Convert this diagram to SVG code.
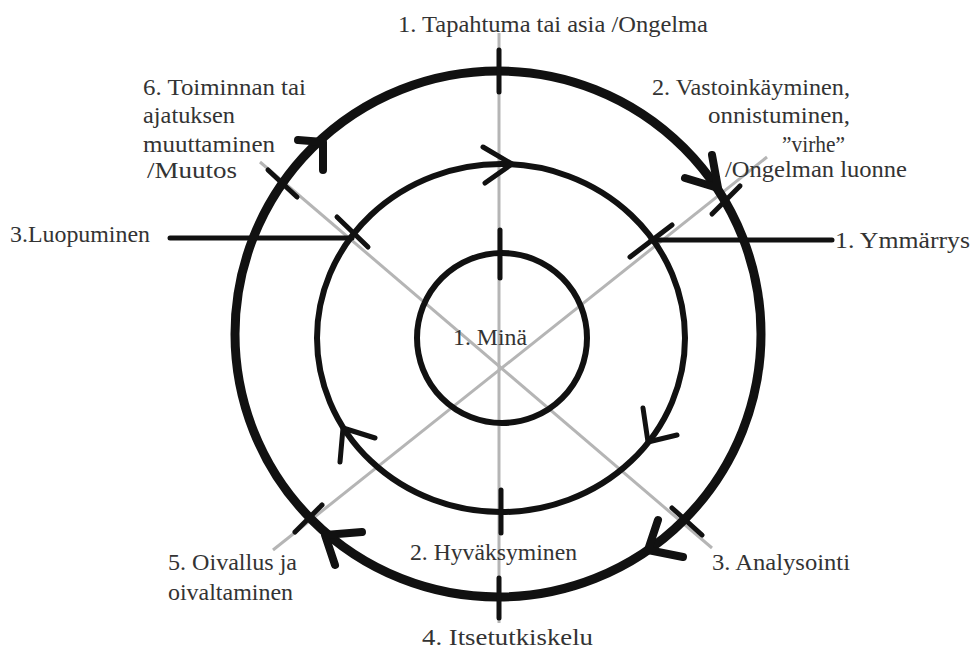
<svg xmlns="http://www.w3.org/2000/svg" width="972" height="655" viewBox="0 0 972 655">
<style>
.axis{stroke:#b5b5b5;stroke-width:3;fill:none}
.ring{fill:none;stroke:#111}
.tick{stroke:#111;stroke-width:5;stroke-linecap:round}
.arr{fill:none;stroke:#111;stroke-linecap:round;stroke-linejoin:round}
.lead{stroke:#111;stroke-width:5;stroke-linecap:round}
text{font-family:"Liberation Serif","DejaVu Serif",serif;font-size:24px;fill:#333}
</style>
<rect width="972" height="655" fill="#fff"/>
<g id="connectors">
  <line class="axis" x1="499" y1="33" x2="499" y2="623"/>
  <line class="axis" x1="260" y1="162" x2="712" y2="548"/>
  <line class="axis" x1="273" y1="550" x2="767" y2="157"/>
  <line class="lead" x1="170" y1="238" x2="352" y2="238"/>
  <line class="lead" x1="651" y1="240" x2="832" y2="240"/>
</g>
<g id="outer-ring">
  <circle class="ring" cx="498" cy="334" r="263" stroke-width="9"/>
  <line class="tick" x1="499" y1="50" x2="499" y2="92"/>
  <line class="tick" x1="712" y1="214" x2="740" y2="186"/>
  <line class="tick" x1="672" y1="508" x2="702" y2="535"/>
  <line class="tick" x1="499" y1="578" x2="499" y2="618"/>
  <line class="tick" x1="295" y1="532" x2="322" y2="505"/>
  <line class="tick" x1="268" y1="170" x2="297" y2="197"/>
  <polyline class="arr" stroke-width="8" points="712,155 718,188 685,178"/>
  <polyline class="arr" stroke-width="8" points="658,520 648,550 683,557"/>
  <polyline class="arr" stroke-width="8" points="362,532 325,535 335,565"/>
  <polyline class="arr" stroke-width="8" points="298,140 323,142 323,170"/>
</g>
<g id="middle-ring">
  <ellipse class="ring" cx="501" cy="338" rx="184" ry="174" stroke-width="6"/>
  <line class="tick" x1="337" y1="217" x2="368" y2="247"/>
  <line class="tick" x1="630" y1="257" x2="672" y2="225"/>
  <line class="tick" x1="501" y1="490" x2="501" y2="533"/>
  <polyline class="arr" stroke-width="5" points="483,147 512,164 485,183"/>
  <polyline class="arr" stroke-width="5" points="643,408 648,442 677,435"/>
  <polyline class="arr" stroke-width="5" points="340,462 343,428 375,438"/>
</g>
<g id="inner-ring">
  <circle class="ring" cx="502" cy="338" r="85" stroke-width="6"/>
  <line class="tick" x1="500" y1="230" x2="500" y2="278"/>
</g>
<g id="label-center"><text x="453" y="345" textLength="74" lengthAdjust="spacingAndGlyphs">1. Minä</text></g>
<g id="label-top"><text x="398" y="32" textLength="310" lengthAdjust="spacingAndGlyphs">1. Tapahtuma tai asia /Ongelma</text></g>
<g id="label-6">
  <text x="143" y="95" textLength="163" lengthAdjust="spacingAndGlyphs">6. Toiminnan tai</text>
  <text x="143" y="123" textLength="92" lengthAdjust="spacingAndGlyphs">ajatuksen</text>
  <text x="143" y="152" textLength="132" lengthAdjust="spacingAndGlyphs">muuttaminen</text>
  <text x="147" y="178" textLength="90" lengthAdjust="spacingAndGlyphs">/Muutos</text>
</g>
<g id="label-2">
  <text x="652" y="95" textLength="198" lengthAdjust="spacingAndGlyphs">2. Vastoinkäyminen,</text>
  <text x="708" y="123" textLength="142" lengthAdjust="spacingAndGlyphs">onnistuminen,</text>
  <text x="782" y="152" textLength="63" lengthAdjust="spacingAndGlyphs">”virhe”</text>
  <text x="725" y="177" textLength="182" lengthAdjust="spacingAndGlyphs">/Ongelman luonne</text>
</g>
<g id="label-ymmarrys"><text x="835" y="248" textLength="135" lengthAdjust="spacingAndGlyphs">1. Ymmärrys</text></g>
<g id="label-luopuminen"><text x="10" y="242" textLength="140" lengthAdjust="spacingAndGlyphs">3.Luopuminen</text></g>
<g id="label-hyvaksyminen"><text x="410" y="560" textLength="167" lengthAdjust="spacingAndGlyphs">2. Hyväksyminen</text></g>
<g id="label-analysointi"><text x="712" y="570" textLength="138" lengthAdjust="spacingAndGlyphs">3. Analysointi</text></g>
<g id="label-itsetutkiskelu"><text x="422" y="645" textLength="171" lengthAdjust="spacingAndGlyphs">4. Itsetutkiskelu</text></g>
<g id="label-5">
  <text x="168" y="570" textLength="129" lengthAdjust="spacingAndGlyphs">5. Oivallus ja</text>
  <text x="168" y="600" textLength="125" lengthAdjust="spacingAndGlyphs">oivaltaminen</text>
</g>
</svg>
